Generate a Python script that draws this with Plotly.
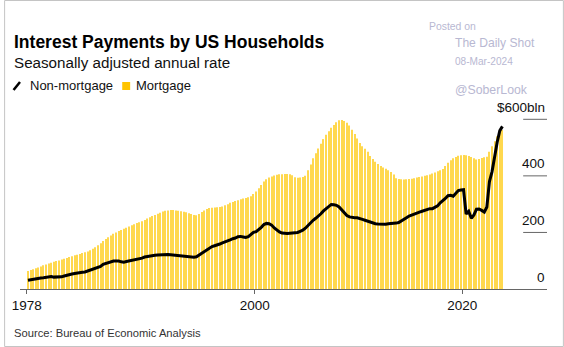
import pandas as pd
import plotly.graph_objects as go

# Quarterly household interest payments, $bln (SAAR), 1978Q1 - 2023Q4
mortgage = [
    64, 67, 70, 73,      # 1978
    76, 80, 84, 87,      # 1979
    90, 93, 96, 99,      # 1980
    101, 104, 107, 110,  # 1981
    113, 116, 119, 121,  # 1982
    124, 127, 130, 133,  # 1983
    137, 142, 148, 155,  # 1984
    162, 170, 177, 183,  # 1985
    189, 195, 200, 205,  # 1986
    209, 213, 217, 221,  # 1987
    225, 229, 233, 236,  # 1988
    240, 244, 249, 254,  # 1989
    258, 262, 266, 270,  # 1990
    274, 277, 278, 279,  # 1991
    279, 278, 277, 275,  # 1992
    273, 271, 268, 265,  # 1993
    262, 261, 265, 272,  # 1994
    278, 283, 286, 287,  # 1995
    288, 289, 290, 292,  # 1996
    296, 300, 305, 308,  # 1997
    311, 314, 317, 320,  # 1998
    322, 324, 328, 336,  # 1999
    345, 356, 368, 380,  # 2000
    388, 394, 398, 401,  # 2001
    404, 406, 406, 407,  # 2002
    407, 406, 402, 395,  # 2003
    393, 394, 396, 400,  # 2004
    420, 440, 462, 480,  # 2005
    497, 514, 530, 545,  # 2006
    558, 570, 580, 590,  # 2007
    597, 598, 594, 588,  # 2008
    578, 563, 548, 532,  # 2009
    516, 505, 496, 485,  # 2010
    470, 460, 450, 442,  # 2011
    435, 430, 425, 420,  # 2012
    414, 405, 392, 389,  # 2013
    388, 387, 388, 389,  # 2014
    390, 392, 394, 396,  # 2015
    398, 400, 402, 405,  # 2016
    408, 412, 416, 420,  # 2017
    424, 435, 446, 455,  # 2018
    462, 467, 471, 473,  # 2019
    474, 473, 470, 467,  # 2020
    462, 458, 460, 463,  # 2021
    466, 468, 485, 505,  # 2022
    522, 540, 552, 562,  # 2023
]

non_mortgage = [
    31, 33, 35, 37,      # 1978
    38, 39, 40, 41,      # 1979
    42, 44, 42, 42,      # 1980
    42, 43, 46, 49,      # 1981
    51, 53, 55, 57,      # 1982
    58, 59, 60, 63,      # 1983
    66, 69, 72, 75,      # 1984
    80, 87, 90, 94,      # 1985
    97, 99, 99, 99,      # 1986
    96, 95, 97, 99,      # 1987
    101, 103, 104, 106,  # 1988
    109, 113, 115, 117,  # 1989
    118, 119, 120, 121,  # 1990
    122, 122, 122, 121,  # 1991
    120, 119, 118, 116,  # 1992
    114, 113, 112, 112,  # 1993
    112, 114, 120, 126,  # 1994
    132, 140, 146, 150,  # 1995
    153, 155, 159, 163,  # 1996
    166, 170, 174, 178,  # 1997
    180, 185, 186, 184,  # 1998
    182, 185, 193, 200,  # 1999
    203, 210, 218, 228,  # 2000
    232, 231, 226, 216,  # 2001
    208, 202, 198, 196,  # 2002
    196, 197, 198, 198,  # 2003
    200, 204, 208, 215,  # 2004
    225, 236, 243, 250,  # 2005
    257, 266, 276, 283,  # 2006
    290, 299, 298, 296,  # 2007
    290, 280, 270, 260,  # 2008
    255, 253, 252, 252,  # 2009
    250, 246, 243, 240,  # 2010
    237, 233, 231, 230,  # 2011
    229, 228, 229, 231,  # 2012
    231, 232, 233, 235,  # 2013
    240, 246, 252, 258,  # 2014
    262, 265, 269, 272,  # 2015
    275, 278, 281, 284,  # 2016
    284, 288, 294, 305,  # 2017
    312, 320, 330, 331,  # 2018
    328, 340, 348, 350,  # 2019
    351, 265, 275, 250,  # 2020
    262, 282, 283, 278,  # 2021
    272, 290, 380, 415,  # 2022
    470, 520, 560, 575,  # 2023
]

x_tick_years = [1978, 2000, 2020]
y_tick_values = [0, 200, 400, 600]
y_tick_labels = ["0", "200", "400", "$600bln"]

# Points sit mid-quarter
quarters = pd.date_range("1978-01-01", periods=len(mortgage), freq="QS") + pd.Timedelta(days=45)

W, H = 564, 347
ML, MR, MT, MB = 16, 17, 108, 58
PW, PH = W - ML - MR, H - MT - MB
Y_MAX = 640


def px(xp):
    return (xp - ML) / PW


def py(yp):
    return (H - MB - yp) / PH


FONT = "Liberation Sans, Arial, sans-serif"
BAR_COLOR = "#FFD84E"
SWATCH_COLOR = "#FFC400"
AXIS_COLOR = "#666666"
MARK_COLOR = "#b8b8d2"

fig = go.Figure()
fig.add_trace(go.Bar(
    x=quarters, y=mortgage, name="Mortgage",
    marker=dict(color=BAR_COLOR, line=dict(width=0)),
    hoverinfo="skip",
))
fig.add_trace(go.Scatter(
    x=quarters, y=non_mortgage, name="Non-mortgage", mode="lines",
    line=dict(color="#000000", width=3),
))

annotations = []


def text(x, y, s, size, color="#000000", bold=False, anchor="left"):
    annotations.append(dict(
        xref="paper", yref="paper", x=px(x), y=py(y), text=f"<b>{s}</b>" if bold else s,
        showarrow=False, xanchor=anchor, yanchor="middle",
        font=dict(family=FONT, size=size, color=color),
    ))


text(8, 42, "Interest Payments by US Households", 17.5, bold=True)
text(8, 62, "Seasonally adjusted annual rate", 15.2, color="#111111")
text(24, 85.5, "Non-mortgage", 13, color="#111111")
text(131, 85.5, "Mortgage", 13, color="#111111")
text(8, 333, "Source: Bureau of Economic Analysis", 11.2, color="#333333")

# Watermark
text(426, 27, "Posted on", 10.4, color=MARK_COLOR)
text(452, 43, "The Daily Shot", 12.1, color=MARK_COLOR)
text(452, 61, "08-Mar-2024", 10.1, color=MARK_COLOR)
text(452, 90, "@SoberLook", 12.3, color=MARK_COLOR)

# Right-hand value labels sitting above short tick rules
for v, lab in zip(y_tick_values, y_tick_labels):
    annotations.append(dict(
        xref="paper", yref="y", x=1.0, y=v, text=lab, showarrow=False,
        xanchor="right", yanchor="middle", yshift=12,
        font=dict(family=FONT, size=13.5, color="#111111"),
    ))

shapes = [
    # outer frame
    dict(type="rect", xref="paper", yref="paper",
         x0=px(0.5), x1=px(W - 0.5), y0=py(H - 0.5), y1=py(0.5),
         line=dict(color="#c4c4c4", width=1), fillcolor="rgba(0,0,0,0)", layer="above"),
    # legend swatches
    dict(type="line", xref="paper", yref="paper",
         x0=px(9.5), y0=py(90), x1=px(16), y1=py(82),
         line=dict(color="#000000", width=2.5)),
    dict(type="rect", xref="paper", yref="paper",
         x0=px(119), y0=py(90), x1=px(127), y1=py(82),
         line=dict(width=0), fillcolor=SWATCH_COLOR),
]
for v in y_tick_values[1:]:
    shapes.append(dict(type="line", xref="paper", yref="y",
                       x0=px(523), x1=1.0, y0=v, y1=v,
                       line=dict(color=AXIS_COLOR, width=1), layer="above"))

fig.update_layout(
    width=W, height=H,
    margin=dict(l=ML, r=MR, t=MT, b=MB, pad=0),
    paper_bgcolor="#ffffff", plot_bgcolor="#ffffff",
    showlegend=False,
    bargap=0.6,
    annotations=annotations,
    shapes=shapes,
    xaxis=dict(
        type="date",
        range=["1977-05-11", "2028-03-03"],
        tickvals=[f"{y}-01-01" for y in x_tick_years],
        ticktext=[str(y) for y in x_tick_years],
        ticks="outside", ticklen=4, tickcolor=AXIS_COLOR, tickwidth=1,
        showline=True, linecolor=AXIS_COLOR, linewidth=1,
        showgrid=False, zeroline=False,
        tickfont=dict(family=FONT, size=13.5, color="#111111"),
    ),
    yaxis=dict(
        range=[0, Y_MAX], showticklabels=False, showgrid=False,
        zeroline=False, showline=False, ticks="",
    ),
)

fig.write_html("out.html")
